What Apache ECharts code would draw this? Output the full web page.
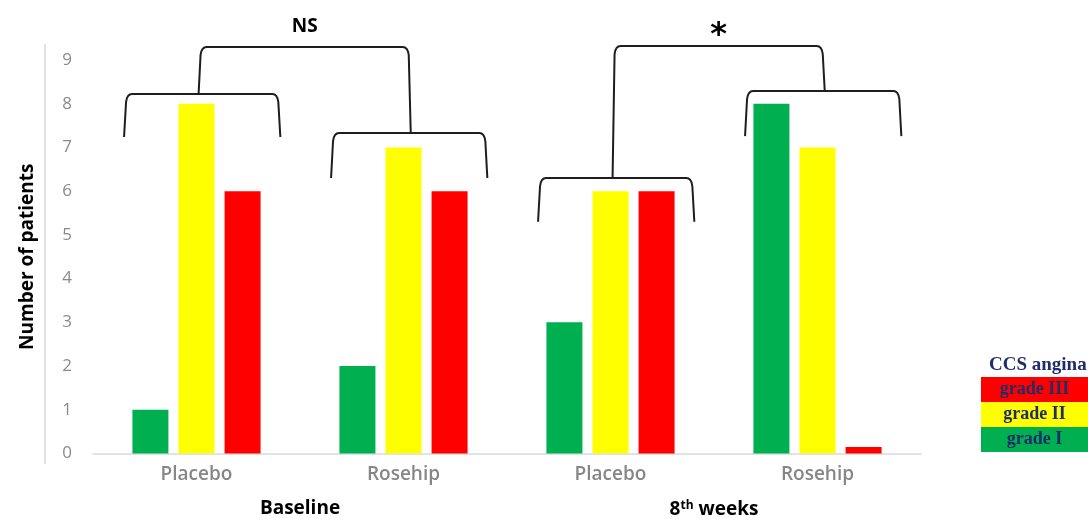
<!DOCTYPE html>
<html>
<head>
    <meta charset="utf-8">
    <title>CCS angina</title>
    <script src="https://cdn.jsdelivr.net/npm/echarts@6/dist/echarts.min.js"></script>
    <style>
        body { margin: 0; background: #fff; }
        #chart { width: 1088px; height: 519px; }
    </style>
</head>
<body>
<div id="chart"></div>
<script>
    // 数据
    var groups = ['Placebo', 'Rosehip', 'Placebo', 'Rosehip']
    var periods = ['Baseline', '8th weeks']
    var gradeI = [1, 2, 3, 8]
    var gradeII = [8, 7, 6, 7]
    var gradeIII = [6, 6, 6, 0.15]
    var yTicks = [0, 1, 2, 3, 4, 5, 6, 7, 8, 9]

    // brackets over each group: [category, top, leg end]
    var groupBrackets = [[0, 8.22, 7.24], [1, 7.33, 6.3], [2, 6.3, 5.3], [3, 8.29, 7.26]]
    // comparison brackets: [left cat, right cat, top, left end, right end]
    var compareBrackets = [[0, 1, 9.3, 8.22, 7.33], [2, 3, 9.32, 6.3, 8.29]]
    var compareLabels = ['NS', '*']

    var axisFont = 'Open Sans'
    var legendFont = 'Liberation Serif'
    var navy = '#1f2d6b'
    var ink = '#1e1e1e'

    function bracketPath(x1, x2, yTop, yL, yR) {
        var r = 8
        return 'M' + x1 + ' ' + yL +
            ' L' + (x1 + 2) + ' ' + (yTop + r) +
            ' Q' + (x1 + 3) + ' ' + yTop + ' ' + (x1 + r) + ' ' + yTop +
            ' L' + (x2 - r) + ' ' + yTop +
            ' Q' + (x2 - 3) + ' ' + yTop + ' ' + (x2 - 2) + ' ' + (yTop + r) +
            ' L' + x2 + ' ' + yR
    }

    function legendBox(color) {
        return {
            backgroundColor: color, width: 107, height: 25, lineHeight: 25, align: 'center',
            fontFamily: legendFont, fontWeight: 'bold', fontSize: 18, color: navy
        }
    }

    var legendKey = {'grade III': 'r', 'grade II': 'y', 'grade I': 'g'}

    var myChart = echarts.init(document.getElementById('chart'))

    myChart.setOption({
        animation: false,
        grid: {left: 93, right: 167, top: 60, bottom: 65},
        title: {
            text: 'CCS angina',
            left: 989, top: 356, padding: 0,
            textStyle: {fontFamily: legendFont, fontWeight: 'bold', fontSize: 19, color: navy}
        },
        legend: {
            orient: 'vertical',
            left: 976, top: 377, padding: 0,
            itemGap: 0, itemWidth: 0, itemHeight: 25,
            selectedMode: false,
            icon: 'none',
            formatter: function (name) {
                return '{' + legendKey[name] + '|' + name + '}'
            },
            textStyle: {
                rich: {
                    r: legendBox('#ff0000'),
                    y: legendBox('#ffff00'),
                    g: legendBox('#00b050')
                }
            },
            data: ['grade III', 'grade II', 'grade I']
        },
        xAxis: [{
            type: 'category',
            data: groups,
            axisLine: {lineStyle: {color: '#d9d9d9', width: 1.5}},
            axisTick: {show: false},
            axisLabel: {margin: 12, fontFamily: axisFont, fontSize: 19, fontWeight: 600, color: '#868686'}
        }, {
            type: 'category',
            data: periods,
            position: 'bottom',
            offset: 38,
            axisLine: {show: false},
            axisTick: {show: false},
            axisLabel: {
                fontFamily: axisFont, fontSize: 19, fontWeight: 'bold', color: '#000',
                formatter: function (v) {
                    return v.replace(/^(\d+)th/, '$1{sup|th}')
                },
                rich: {
                    sup: {fontFamily: axisFont, fontSize: 12, fontWeight: 'bold', color: '#000', verticalAlign: 'top', padding: [0, 0, 8, 0]}
                }
            }
        }],
        yAxis: {
            type: 'value',
            min: 0, max: 9, interval: 1,
            name: 'Number of patients',
            nameLocation: 'middle',
            nameGap: 56,
            nameTextStyle: {fontFamily: axisFont, fontSize: 19, fontWeight: 'bold', color: '#000'},
            axisLine: {show: false},
            splitLine: {show: false},
            axisLabel: {
                margin: 21, fontFamily: axisFont, fontSize: 17, color: '#8a8a8a',
                formatter: function (v) { return yTicks.indexOf(v) >= 0 ? String(v) : '' }
            }
        },
        graphic: [{
            type: 'line',
            shape: {x1: 45, y1: 44, x2: 45, y2: 464},
            style: {stroke: '#d9d9d9', lineWidth: 1.5}
        }],
        series: [{
            name: 'grade I', type: 'bar', data: gradeI,
            itemStyle: {color: '#00b050'},
            barWidth: 36, barGap: '28%'
        }, {
            name: 'grade II', type: 'bar', data: gradeII,
            itemStyle: {color: '#ffff00'},
            barWidth: 36, barGap: '28%'
        }, {
            name: 'grade III', type: 'bar', data: gradeIII,
            itemStyle: {color: '#ff0000'},
            barWidth: 36, barGap: '28%'
        }, {
            type: 'custom',
            clip: false,
            silent: true,
            data: groupBrackets,
            encode: {x: 0, y: 1},
            renderItem: function (params, api) {
                var w = api.size([1, 0])[0]
                var c = api.coord([api.value(0), api.value(1)])
                var bottom = api.coord([api.value(0), api.value(2)])[1]
                var x1 = c[0] - w * 0.35
                var x2 = c[0] + w * 0.405
                return {
                    type: 'path',
                    shape: {pathData: bracketPath(x1, x2, c[1], bottom, bottom)},
                    style: {fill: null, stroke: ink, lineWidth: 2}
                }
            }
        }, {
            type: 'custom',
            clip: false,
            silent: true,
            data: compareBrackets,
            encode: {x: 0, y: 2},
            renderItem: function (params, api) {
                var w = api.size([1, 0])[0]
                var l = api.coord([api.value(0), api.value(2)])
                var r = api.coord([api.value(1), api.value(2)])
                var yl = api.coord([api.value(0), api.value(3)])[1]
                var yr = api.coord([api.value(1), api.value(4)])[1]
                var x1 = l[0] + w * 0.01
                var x2 = r[0] + w * 0.035
                var label = compareLabels[params.dataIndex]
                var star = label === '*'
                return {
                    type: 'group',
                    children: [{
                        type: 'path',
                        shape: {pathData: bracketPath(x1, x2, l[1], yl, yr)},
                        style: {fill: null, stroke: ink, lineWidth: 2}
                    }, {
                        type: 'text',
                        x: (x1 + x2) / 2,
                        y: l[1] - (star ? -6 : 11),
                        style: {
                            text: label,
                            fontFamily: star ? 'DejaVu Sans' : axisFont,
                            fontWeight: 'bold',
                            fontSize: star ? 32 : 19,
                            fill: '#000',
                            align: 'center',
                            verticalAlign: 'bottom'
                        }
                    }]
                }
            }
        }]
    })
</script>
</body>
</html>
